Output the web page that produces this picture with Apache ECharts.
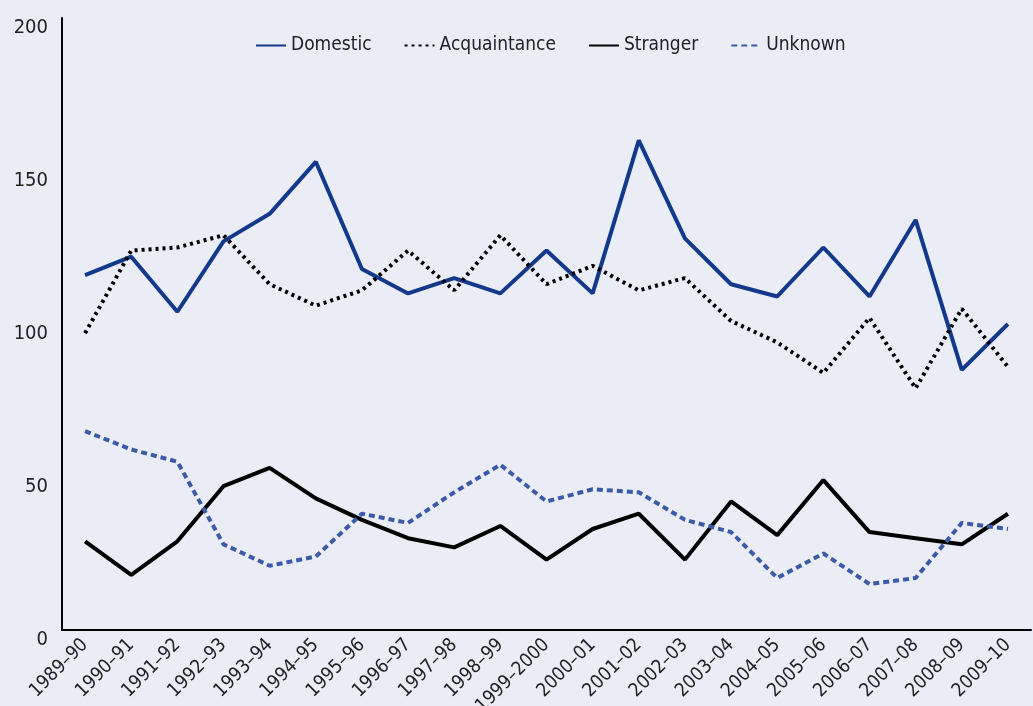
<!DOCTYPE html>
<html>
<head>
<meta charset="utf-8">
<script src="https://cdn.jsdelivr.net/npm/echarts@6/dist/echarts.min.js"></script>
<style>
  html, body { margin: 0; padding: 0; background: #eaedf5; }
  #chart { width: 1033px; height: 706px; }
</style>
</head>
<body>
<div id="chart"></div>
<script>
// 年度类目
var years = ["1989–90", "1990–91", "1991–92", "1992–93", "1993–94", "1994–95", "1995–96",
  "1996–97", "1997–98", "1998–99", "1999–2000", "2000–01", "2001–02", "2002–03",
  "2003–04", "2004–05", "2005–06", "2006–07", "2007–08", "2008–09", "2009–10"];

// 各系列数值
var domestic = [116, 122, 104, 127, 136, 153, 118, 110, 115, 110, 124, 110, 160, 128, 113, 109, 125, 109, 134, 85, 100];
var acquaintance = [97, 124, 125, 129, 113, 106, 111, 124, 111, 129, 113, 119, 111, 115, 101, 94, 84, 102, 79, 105, 86];
var stranger = [29, 18, 29, 47, 53, 43, 36, 30, 27, 34, 23, 33, 38, 23, 42, 31, 49, 32, 30, 28, 38];
var unknown = [65, 59, 55, 28, 21, 24, 38, 35, 45, 54, 42, 46, 45, 36, 32, 17, 25, 15, 17, 35, 33];

// y轴刻度
var yTicks = [0, 50, 100, 150, 200];

var font = "'DejaVu Sans Condensed', 'Liberation Sans Narrow', 'Roboto', sans-serif";

var chart = echarts.init(document.getElementById("chart"));

function line(name, data, color, type) {
  return {
    name: name,
    type: "line",
    data: data,
    symbol: "none",
    lineStyle: { color: color, width: 4, type: type },
    itemStyle: { color: color },
  };
}

chart.setOption({
  backgroundColor: "#eaedf5",
  animation: false,
  textStyle: { fontFamily: font },
  legend: {
    top: 31,
    left: 250,
    itemWidth: 30,
    itemHeight: 4,
    itemGap: 32,
    itemStyle: { opacity: 0 },
    textStyle: { fontFamily: font, fontSize: 19, color: "#222" },
  },
  grid: { left: 62, right: 2, top: 18, bottom: 76, outerBoundsMode: "none", containLabel: false },
  xAxis: {
    type: "category",
    data: years,
    boundaryGap: true,
    axisLine: { lineStyle: { color: "#000", width: 2 } },
    axisTick: { show: false },
    axisLabel: {
      interval: 0,
      rotate: 45,
      margin: 12,
      fontFamily: font,
      fontSize: 19,
      color: "#222",
    },
  },
  yAxis: {
    type: "value",
    min: yTicks[0],
    max: yTicks[yTicks.length - 1],
    interval: 50,
    splitLine: { show: false },
    axisLine: { show: true, lineStyle: { color: "#000", width: 2 } },
    axisTick: { show: false },
    axisLabel: {
      margin: 14,
      verticalAlign: "top",
      fontFamily: font,
      fontSize: 20,
      color: "#222",
    },
  },
  series: [
    line("Domestic", domestic, "#14388c", "solid"),
    line("Acquaintance", acquaintance, "#000000", [3, 4]),
    line("Stranger", stranger, "#000000", "solid"),
    line("Unknown", unknown, "#3b5ba8", [6, 4]),
  ],
});
</script>
</body>
</html>
